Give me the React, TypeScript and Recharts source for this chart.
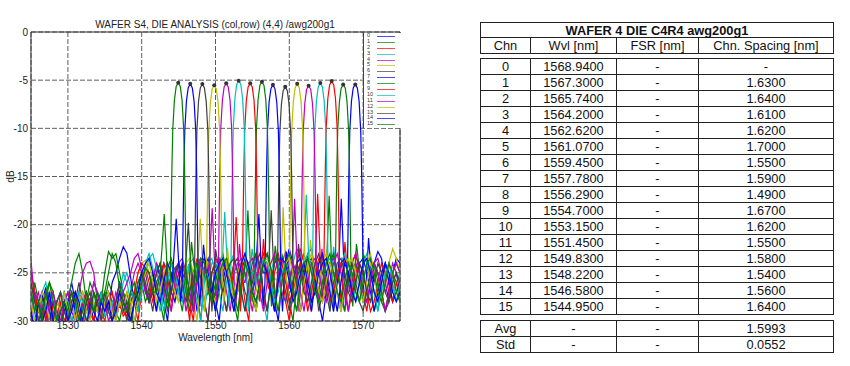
import React from 'react';
import { ComposedChart, Line, Scatter, XAxis, YAxis, CartesianGrid, ReferenceArea, Label } from 'recharts';

// ---------- table data ----------
const CHANNELS = [0, 1, 2, 3, 4, 5, 6, 7, 8, 9, 10, 11, 12, 13, 14, 15];
const WVL = [1568.94, 1567.3, 1565.74, 1564.2, 1562.62, 1561.07, 1559.45, 1557.78, 1556.29, 1554.7, 1553.15, 1551.45, 1549.83, 1548.22, 1546.58, 1544.95];
const SPACING = [null, 1.63, 1.64, 1.61, 1.62, 1.7, 1.55, 1.59, 1.49, 1.67, 1.62, 1.55, 1.58, 1.54, 1.56, 1.64];
const AVG_SPACING = 1.5993;
const STD_SPACING = 0.0552;

// ---------- chart data ----------
const PEAK_DB = [-5.44, -5.44, -5.09, -5.3, -5.57, -5.37, -5.68, -5.47, -5.16, -5.33, -5.05, -5.33, -5.54, -5.4, -5.37, -5.26];
const X_TICKS = [1530, 1540, 1550, 1560, 1570];
const Y_TICKS = [-30, -25, -20, -15, -10, -5, 0];
const COLORS = ['#0000ff', '#008000', '#ff0000', '#00bfbf', '#bf00bf', '#bfbf00', '#404040'];

const GRID = [
  1525, 1525.5, 1526, 1526.5, 1527, 1527.5, 1528, 1528.5, 1529, 1529.5,
  1530, 1530.5, 1531, 1531.5, 1532, 1532.5, 1533, 1533.5, 1534, 1534.5,
  1535, 1535.5, 1536, 1536.5, 1537, 1537.5, 1538, 1538.5, 1539, 1539.5,
  1540, 1540.5, 1541, 1541.5, 1542, 1542.5, 1543, 1543.5, 1544, 1544.5,
  1545, 1545.5, 1546, 1546.5, 1547, 1547.5, 1548, 1548.5, 1549, 1549.5,
  1550, 1550.5, 1551, 1551.5, 1552, 1552.5, 1553, 1553.5, 1554, 1554.5,
  1555, 1555.5, 1556, 1556.5, 1557, 1557.5, 1558, 1558.5, 1559, 1559.5,
  1560, 1560.5, 1561, 1561.5, 1562, 1562.5, 1563, 1563.5, 1564, 1564.5,
  1565, 1565.5, 1566, 1566.5, 1567, 1567.5, 1568, 1568.5, 1569, 1569.5,
  1570, 1570.5, 1571, 1571.5, 1572, 1572.5, 1573, 1573.5, 1574, 1574.5,
  1575,
];

const NOISE_CH0 = [
  -27, -29, -31, -28, -26.5, -29, -30, -28, -29, -31,
  -28, -26, -28, -30, -29, -27, -28, -30, -31, -28,
  -27, -29, -30, -28, -26, -27, -29, -31, -28, -26,
  -25, -27, -28, -26, -24, -25.5, -28, -30, -26, -24.5,
  -26, -28, -25, -24, -26, -29, -27, -24.5, -23.5, -26,
  -28, -30, -26, -24, -25, -28, -27, -25, -23.5, -24,
  -27, -29, -26, -24, -23, -25, -28, -30, -26, -24,
  -22.5, -24, -27, -29, -26, -23, -22.5, -25, -28, -30,
  -27, -24, -23, -25, -28, -27, -25, -24, -26, -27,
  -25, -26, -28, -24, -22.8, -23.5, -26, -28, -25, -23.5,
  -24,
];
const NOISE_CH1 = [
  -29, -26, -28, -30, -27, -29, -31, -28, -27, -29,
  -28, -26, -24, -23, -25, -28, -30, -27, -28, -29,
  -28, -26, -27, -29, -30, -28, -27, -29, -31, -27,
  -26, -28, -27, -25, -26, -28, -30, -24.5, -23.5, -25,
  -27, -29, -26, -24, -25, -27, -30, -25, -24, -26,
  -29, -27, -25, -23.5, -25, -28, -30, -26, -24, -25,
  -27, -29, -26, -23.5, -24, -27, -29, -26, -23, -25,
  -28, -30, -26, -24, -23, -25, -28, -27, -24, -23.5,
  -26, -25, -24, -25, -26, -27, -26, -25, -24, -25,
  -23, -24, -26, -29, -27, -25, -24, -26, -28, -27,
  -26,
];
const NOISE_CH2 = [
  -25, -27, -30, -28, -29, -31, -28, -30, -27, -29,
  -30, -28, -27, -29, -31, -28, -29, -30, -27, -28,
  -29, -27, -28, -30, -28, -29.5, -29, -27, -28, -30,
  -27, -24.5, -25, -27, -29, -26, -25, -27, -29, -26,
  -24, -25, -27, -30, -25, -23.5, -25, -28, -27, -25,
  -23.5, -24, -27, -29, -26, -24, -23.5, -25, -28, -30,
  -25, -23, -24, -27, -29, -26, -24, -23, -25, -28,
  -30, -27, -24, -22.5, -24, -27, -29, -26, -26, -25,
  -25, -25, -25, -25, -25, -25, -25, -24, -23, -25,
  -27, -29, -26, -24, -25, -27, -29, -27, -25, -26,
  -28,
];
const NOISE_CH3 = [
  -28, -30, -29, -27, -26, -28, -30, -31, -28, -27,
  -29, -31, -28, -27, -29, -30, -28, -26, -27, -29,
  -29.5, -29, -28, -30, -27, -25, -26, -28, -30, -28,
  -26, -24, -23, -24.5, -27, -29, -27, -25, -24, -26,
  -28, -27, -25, -24, -26, -28, -30, -26, -24, -23.5,
  -25, -27, -29, -26, -24, -23, -25, -27, -29, -27,
  -25, -24, -26, -28, -30, -25, -23.5, -24, -27, -28,
  -26, -24, -22.5, -23, -25, -25, -25, -25, -25, -25,
  -25, -25, -25, -25, -24, -23, -24, -26, -28, -26,
  -24, -23, -25, -27, -29, -26, -24, -25, -27, -26,
  -25,
];
const NOISE_CH4 = [
  -30, -27, -28, -30, -29, -27, -28, -30, -29, -27,
  -28, -30, -29, -27, -25, -24, -23.8, -25, -28, -30,
  -29, -27, -28, -30, -28, -27, -29, -27, -25, -24,
  -25, -27, -28, -26, -24, -25, -27, -29, -26, -24.5,
  -24, -26, -29, -27, -25, -24, -26, -28, -30, -25,
  -24, -23.5, -25, -27, -29, -25, -24, -23.5, -25, -27,
  -29, -26, -24, -23, -25, -27, -28, -25, -24, -22.8,
  -24, -26, -26, -26, -26, -26, -26, -26, -26, -26,
  -26, -24, -23.5, -25, -27, -29, -26, -24, -23, -24.5,
  -27, -28, -26, -24, -23.5, -25, -27, -26, -24, -25,
  -27,
];
const NOISE_CH5 = [
  -27, -28, -30, -29, -27, -26, -28, -29, -30, -28,
  -29, -27, -28, -30, -29, -28, -27, -29, -30, -28,
  -27, -29, -30, -28, -27, -28, -30, -29, -27, -25,
  -24, -23.7, -25, -27, -28, -26, -24.5, -24, -26, -28,
  -27, -25, -24, -25.5, -28, -30, -25, -23.5, -24, -27,
  -28, -26, -24, -23.5, -26, -28, -27, -25, -24, -26,
  -28, -27, -25, -24, -26, -27, -25.5, -26, -26, -26,
  -26, -26, -26, -26, -26, -26, -26, -26, -26, -24,
  -23, -24.5, -27, -29, -26, -24, -23.5, -25, -27, -28,
  -26, -24, -23, -25, -28, -27, -25, -24, -22.5, -23.5,
  -25,
];
const NOISE_CH6 = [
  -26, -28, -29, -27, -30, -28, -27, -29, -31, -28,
  -27, -29, -28, -26, -28, -30, -29, -27, -28, -30,
  -28, -27, -29, -28, -26, -28, -30, -28, -27, -29,
  -26, -25, -27, -29, -26, -25, -26.5, -28, -27, -25,
  -24, -26, -28, -27, -25, -24, -25.5, -28, -30, -25,
  -24, -25, -27, -29, -26, -24, -23.5, -25, -27, -28,
  -26, -24, -23, -25, -26, -26, -26, -26, -26, -26,
  -26, -26, -26, -26, -25, -23.5, -24, -26, -29, -27,
  -25, -24, -25, -27, -29, -27, -25, -24, -26, -28,
  -29, -27, -25, -24, -25, -27, -29, -28, -26, -25,
  -27,
];
const NOISE_CH7 = [
  -29, -31, -28, -27, -29, -30, -28, -30, -31, -29,
  -28, -27, -29, -31, -28, -27, -29, -30, -28, -27,
  -28, -29, -26, -25, -23.5, -22.3, -23, -25.5, -28, -27,
  -26, -24.5, -25, -27, -29, -26, -24, -25, -27, -28,
  -26, -24, -25, -27, -29, -26, -24, -23.5, -25, -27,
  -29, -26, -24, -25, -27, -28, -26, -24, -23, -24.5,
  -27, -26, -26, -26, -26, -26, -26, -26, -26, -26,
  -26, -26, -24, -23.5, -25, -27, -29, -26, -24, -23,
  -25, -27, -29, -26, -24, -23.5, -25, -27, -26, -24,
  -23.5, -25, -27, -29, -27, -25, -24, -26, -28, -27,
  -26,
];
const NOISE_CH8 = [
  -28, -27, -29, -30, -28, -26, -27, -29, -31, -28,
  -30, -28, -27, -29, -30, -28, -26, -27, -29, -28,
  -25, -22.8, -23.5, -23, -25, -27, -28, -30, -28, -26,
  -25, -26, -28, -27, -25, -24, -26, -29, -27, -25,
  -24, -25, -27, -29, -26, -24, -23.5, -25, -27, -28,
  -26, -24, -23, -25, -27, -29, -26, -24, -27, -27,
  -27, -27, -27, -27, -27, -27, -27, -27, -26, -24,
  -23, -24.5, -27, -29, -26, -24, -23.5, -25, -27, -28,
  -26, -24, -23, -25, -27, -29, -26, -24.5, -24, -26,
  -28, -27, -25, -24, -26, -28, -29, -27, -25, -24,
  -25,
];
const NOISE_CH9 = [
  -25, -27, -29, -28, -30, -27, -29, -31, -28, -30,
  -29, -27, -28, -30, -28, -27, -29, -30, -28, -29,
  -30, -28, -27, -29, -28.5, -29, -29.5, -28, -27, -25,
  -24, -24.5, -26, -28, -27, -25, -24, -25.5, -28, -27,
  -25, -24, -26, -28, -30, -25, -23.5, -24, -26, -28,
  -27, -25, -24, -25, -26, -26, -26, -26, -26, -26,
  -26, -26, -26, -26, -26, -27, -25, -23.5, -24, -26,
  -28, -27, -25, -24, -26, -29, -27, -25, -23.5, -24,
  -26, -28, -27, -25, -24, -26, -29, -27, -25, -24,
  -25, -27, -29, -28, -26, -24, -25, -27, -28, -26,
  -27,
];
const NOISE_CH10 = [
  -27, -29, -30, -28, -29, -27, -28, -30, -29, -27,
  -28, -30, -29, -27, -28, -29, -30, -28, -29, -27,
  -29.5, -29, -28, -30, -28, -26, -25, -26.5, -28, -29,
  -27, -25, -23.5, -23, -24.5, -27, -29, -26, -24, -25,
  -27, -28, -26, -24, -23.5, -25, -27, -29, -26, -24,
  -24, -26, -26, -26, -26, -26, -26, -26, -26, -26,
  -26, -26, -25, -23.5, -24, -26, -28, -27, -25, -24,
  -25, -27, -29, -26, -24, -23, -24.5, -27, -28, -26,
  -24, -23.5, -25, -27, -29, -26, -24, -25, -27, -28,
  -26, -24, -25, -27, -29, -27, -25, -24, -26, -28,
  -26,
];
const NOISE_CH11 = [
  -23.7, -28, -27, -29, -31, -28, -27, -29, -30, -28,
  -27, -29, -30, -28, -27, -29, -28, -26, -27, -29,
  -28, -30, -29, -27, -28, -27, -26, -25, -23.5, -23,
  -24.5, -26, -28, -27, -25, -24, -25.5, -27, -29, -26,
  -24, -23.5, -25, -27, -29, -26, -24, -25, -25, -25,
  -25, -25, -25, -25, -25, -25, -25, -25, -26, -24,
  -23.5, -25, -27, -29, -26, -24, -23, -25, -27, -28,
  -26, -24, -25, -27, -29, -26, -24, -23.5, -25, -27,
  -28, -26, -24, -23, -25, -27, -29, -26, -24, -25,
  -27, -28, -26, -24, -25, -27, -29, -27, -25, -24,
  -25,
];
const NOISE_CH12 = [
  -28, -30, -29, -27, -28, -30, -31, -28, -29, -27,
  -29, -28, -30, -28, -27, -29, -30, -28, -29, -30,
  -28, -27, -29, -30, -28, -29, -27, -28, -30, -28,
  -26, -25, -24, -26, -28, -27, -25, -24, -25.5, -27,
  -28, -26, -24, -23.5, -25, -25, -25, -25, -25, -25,
  -25, -25, -25, -25, -25, -27, -25, -24, -23, -25,
  -27, -29, -26, -24, -23.5, -25, -27, -29, -26, -24,
  -23.5, -25, -27, -29, -26, -24, -23, -25, -27, -28,
  -26, -24, -25, -27, -29, -26, -24, -23.5, -25, -27,
  -28, -26, -24, -25, -27, -28, -26, -24, -25, -27,
  -28,
];
const NOISE_CH13 = [
  -26, -28, -30, -29, -27, -28, -30, -28, -27, -29,
  -30, -28, -27, -29, -30, -28, -27, -29, -28, -30,
  -27, -29, -30, -28, -27, -29, -28, -30, -28, -27,
  -25, -26.5, -28, -27, -25, -24, -26, -28, -27, -25,
  -24, -25, -25, -25, -25, -25, -25, -25, -25, -25,
  -25, -25, -27, -25, -24, -23.5, -25, -27, -29, -26,
  -24, -23, -24.5, -27, -29, -26, -24, -23.5, -25, -27,
  -29, -26, -24, -25, -27, -28, -26, -24, -23, -25,
  -27, -29, -26, -24, -23.5, -25, -27, -28, -26, -24,
  -25, -27, -28, -26, -24, -25, -27, -28, -26, -25,
  -26,
];
const NOISE_CH14 = [
  -29, -31, -28, -30, -29, -27, -30, -31, -29, -28,
  -30, -29, -27, -28, -30, -31, -28, -29, -30, -28,
  -29, -28, -30, -29, -27, -28, -29, -30, -28, -27,
  -25, -24, -23.5, -25, -27, -28, -26, -24, -25, -25,
  -25, -25, -25, -25, -25, -25, -25, -25, -25, -27,
  -25, -24, -23.5, -25, -27, -29, -26, -24, -23, -24.5,
  -27, -28, -26, -24, -25, -27, -29, -26, -23.5, -24,
  -26, -28, -27, -25, -24, -26, -28, -27, -25, -24,
  -23.5, -25, -27, -29, -26, -24, -25, -27, -28, -26,
  -24, -23.5, -25, -27, -28, -26, -24, -25, -27, -28,
  -27,
];
const NOISE_CH15 = [
  -27, -29, -28, -30, -27, -26, -28, -30, -29, -28,
  -29, -27, -28, -30, -29, -27, -28, -29, -27, -28,
  -27, -25, -23, -24, -26.5, -28, -29, -27, -26, -28,
  -26, -24.5, -25, -27, -27, -27, -27, -27, -27, -27,
  -27, -27, -27, -27, -27, -25, -23.5, -24, -26, -28,
  -27, -25, -24, -23.5, -25, -27, -29, -26, -24, -25,
  -27, -28, -26, -24, -23, -24.5, -27, -29, -26, -24,
  -25, -27, -29, -26, -24, -23.5, -25, -27, -28, -26,
  -24, -23, -25, -27, -28, -26, -24, -25, -27, -28,
  -26, -24, -23.5, -25, -27, -28, -26, -24, -25, -27,
  -28,
];

// wavelength offsets (nm) of the measured passband points relative to each channel centre
const PROFILE_OFFSETS = [-2.45, -2.2, -1.9, -1.6, -1.32, -1.08, -0.96, -0.86, -0.74, -0.52, -0.28, 0, 0.28, 0.52, 0.74, 0.86, 0.96, 1.08, 1.3, 1.55, 1.8, 2.1, 2.45];
const PROFILE_CH0 = [-26, -23.5, -17.3, -23, -28.5, -25.9, -19.4, -14.4, -10.2, -7.2, -5.8, -5.44, -5.8, -7.2, -10.3, -14.5, -19.5, -26, -28, -25, -21.4, -24.5, -26];
const PROFILE_CH1 = [-25, -23, -17.0, -23.5, -29, -25.8, -19.5, -14.3, -10.2, -7.3, -5.85, -5.44, -5.8, -7.2, -10.3, -14.4, -19.4, -25.9, -28.5, -25, -22, -24, -26.5];
const PROFILE_CH2 = [-26.5, -23.5, -16.8, -22.5, -28, -25.6, -19.1, -14.1, -9.9, -6.9, -5.5, -5.09, -5.5, -6.9, -9.9, -14.1, -19.2, -25.7, -28.5, -25.5, -21.8, -24.5, -27];
const PROFILE_CH3 = [-25.5, -23, -16.9, -23, -28.5, -25.8, -19.3, -14.3, -10.1, -7.1, -5.7, -5.3, -5.7, -7.1, -10.1, -14.3, -19.3, -25.8, -29, -25, -22.3, -24, -26];
const PROFILE_CH4 = [-26, -23.5, -17.3, -23.5, -29, -26.1, -19.6, -14.6, -10.4, -7.4, -5.95, -5.57, -5.95, -7.4, -10.4, -14.6, -19.6, -26, -28, -25.5, -22.5, -25, -27];
const PROFILE_CH5 = [-26.5, -24, -18.2, -23.5, -28, -25.9, -19.4, -14.4, -10.2, -7.2, -5.8, -5.37, -5.8, -7.2, -10.2, -14.4, -19.4, -25.9, -28.5, -24.5, -21.6, -24, -26.5];
const PROFILE_CH6 = [-25, -23.5, -18.5, -24, -29, -26.2, -19.7, -14.7, -10.5, -7.5, -6.1, -5.68, -6.1, -7.5, -10.5, -14.7, -19.7, -26.2, -28, -25, -22, -24.5, -26];
const PROFILE_CH7 = [-26, -23, -18.9, -24, -28.5, -26, -19.5, -14.5, -10.3, -7.3, -5.9, -5.47, -5.9, -7.3, -10.3, -14.5, -19.5, -26, -29, -25.5, -22.8, -24.5, -27];
const PROFILE_CH8 = [-25.5, -23.5, -18.5, -23.5, -28, -25.7, -19.2, -14.2, -10, -7, -5.55, -5.16, -5.55, -7, -10, -14.2, -19.2, -25.7, -28.5, -25, -22.2, -24, -26];
const PROFILE_CH9 = [-26, -24, -19.2, -24, -29, -25.8, -19.3, -14.3, -10.1, -7.1, -5.7, -5.33, -5.7, -7.1, -10.1, -14.3, -19.3, -25.8, -28, -24.5, -21.5, -24.5, -26.5];
const PROFILE_CH10 = [-26.5, -23.5, -18.7, -23.5, -28.5, -25.6, -19.1, -14.1, -9.9, -6.9, -5.45, -5.05, -5.45, -6.9, -9.9, -14.1, -19.1, -25.6, -29, -25, -22.5, -24, -26];
const PROFILE_CH11 = [-25, -23, -18.3, -23.5, -28, -25.8, -19.3, -14.3, -10.1, -7.1, -5.7, -5.33, -5.7, -7.1, -10.1, -14.3, -19.3, -25.8, -28.5, -25.5, -22, -24.5, -26];
const PROFILE_CH12 = [-26, -24, -19.4, -24, -29, -26.1, -19.6, -14.5, -10.3, -7.3, -5.9, -5.54, -5.9, -7.3, -10.3, -14.5, -19.6, -26.1, -28, -25, -22.4, -25, -27];
const PROFILE_CH13 = [-25.5, -23.5, -19.8, -24, -28.5, -25.9, -19.4, -14.4, -10.2, -7.2, -5.8, -5.4, -5.8, -7.2, -10.2, -14.4, -19.4, -25.9, -29, -25.5, -22.6, -24, -26];
const PROFILE_CH14 = [-26, -23, -19.4, -23.5, -28, -25.9, -19.4, -14.4, -10.2, -7.2, -5.8, -5.37, -5.8, -7.2, -10.2, -14.4, -19.4, -25.9, -28.5, -25, -22.1, -24.5, -26.5];
const PROFILE_CH15 = [-25, -22.5, -18.9, -23, -28.5, -25.8, -19.3, -14.3, -10.1, -7.1, -5.65, -5.26, -5.65, -7.1, -10.1, -14.3, -19.3, -25.8, -28, -25, -21.8, -24, -26];

const NOISE = [NOISE_CH0, NOISE_CH1, NOISE_CH2, NOISE_CH3, NOISE_CH4, NOISE_CH5, NOISE_CH6, NOISE_CH7, NOISE_CH8, NOISE_CH9, NOISE_CH10, NOISE_CH11, NOISE_CH12, NOISE_CH13, NOISE_CH14, NOISE_CH15];
const PROFILES = [PROFILE_CH0, PROFILE_CH1, PROFILE_CH2, PROFILE_CH3, PROFILE_CH4, PROFILE_CH5, PROFILE_CH6, PROFILE_CH7, PROFILE_CH8, PROFILE_CH9, PROFILE_CH10, PROFILE_CH11, PROFILE_CH12, PROFILE_CH13, PROFILE_CH14, PROFILE_CH15];

const SERIES = CHANNELS.map((c) => {
  const lc = WVL[c];
  const pts: { x: number; y: number }[] = [];
  GRID.forEach((x, i) => {
    if (Math.abs(x - lc) > 2.46) pts.push({ x, y: NOISE[c][i] });
  });
  PROFILE_OFFSETS.forEach((o, k) => pts.push({ x: Math.round((lc + o) * 1000) / 1000, y: PROFILES[c][k] }));
  pts.sort((a, b) => a.x - b.x);
  return pts;
});
const PEAK_POINTS = CHANNELS.map((c) => ({ x: WVL[c], y: PEAK_DB[c] }));

const NARROW = '"Liberation Sans Narrow", "Liberation Sans", Arial, sans-serif';
const TABLE_FONT = '"Liberation Sans", Arial, sans-serif';
const COL_W = [50, 86, 82, 135];

const renderDb = (props: any) => {
  const vb = props.viewBox || {};
  const x = vb.x + 9;
  const y = vb.y + vb.height / 2;
  return (
    <text x={x} y={y} transform={`rotate(-90 ${x} ${y})`} textAnchor="middle" dominantBaseline="central" fontSize={10} fontFamily={NARROW} fill="#222">
      dB
    </text>
  );
};

const Cell = ({ w, h, bold, children }: any) => (
  <div
    style={{
      width: w,
      height: h,
      boxSizing: 'border-box',
      borderRight: '1px solid #222',
      borderBottom: '1px solid #222',
      display: 'flex',
      alignItems: 'center',
      justifyContent: 'center',
      fontWeight: bold ? 'bold' : 'normal',
      whiteSpace: 'nowrap',
    }}
  >
    {children}
  </div>
);

const Row = ({ cells, h }: any) => (
  <div style={{ display: 'flex' }}>
    {cells.map((t: any, i: number) => (
      <Cell key={i} w={COL_W[i]} h={h}>
        {t}
      </Cell>
    ))}
  </div>
);

const blockStyle = (top: number): React.CSSProperties => ({
  position: 'absolute',
  left: 480,
  top,
  borderTop: '1px solid #222',
  borderLeft: '1px solid #222',
  fontFamily: TABLE_FONT,
  fontSize: 12.8,
  color: '#111',
});

export default function App() {
  return (
    <div style={{ position: 'absolute', left: 0, top: 0, width: 850, height: 366, background: '#fff', overflow: 'hidden' }}>
      <div style={{ position: 'absolute', left: 0, top: 19, width: 430, textAlign: 'center', fontFamily: NARROW, fontSize: 10, lineHeight: '12px', color: '#222' }}>
        WAFER S4, DIE ANALYSIS (col,row) (4,4) /awg200g1
      </div>
      <div style={{ position: 'absolute', left: 0, top: 0 }}>
        <ComposedChart width={420} height={350} margin={{ top: 32, right: 20, left: 1, bottom: 9 }}>
          <CartesianGrid stroke="#333" strokeDasharray="5 2" strokeWidth={0.8} />
          <XAxis
            type="number"
            dataKey="x"
            domain={[1525, 1575]}
            ticks={X_TICKS}
            allowDataOverflow
            axisLine={false}
            tickLine={false}
            tickSize={0}
            tickMargin={1}
            height={20}
            tick={{ fontSize: 10, fontFamily: NARROW, fill: '#222' }}
          >
            <Label value="Wavelength [nm]" position="insideBottom" offset={0.5} style={{ fontSize: 10, fontFamily: NARROW, fill: '#222' }} />
          </XAxis>
          <YAxis
            type="number"
            domain={[-30, 0]}
            ticks={Y_TICKS}
            allowDataOverflow
            axisLine={false}
            tickLine={false}
            tickSize={0}
            tickMargin={3}
            width={30}
            tick={{ fontSize: 10, fontFamily: NARROW, fill: '#222' }}
          >
            <Label content={renderDb} />
          </YAxis>
          {CHANNELS.map((c) => (
            <Line
              key={c}
              data={SERIES[c]}
              dataKey="y"
              type="linear"
              stroke={COLORS[c % COLORS.length]}
              strokeWidth={1.2}
              dot={false}
              activeDot={false}
              isAnimationActive={false}
            />
          ))}
          <Scatter
            data={PEAK_POINTS}
            dataKey="y"
            fill="#333"
            isAnimationActive={false}
            shape={(p: any) => <circle cx={p.cx} cy={p.cy} r={2} fill="#333" />}
          />
          <ReferenceArea x1={1525} x2={1575} y1={-30} y2={0} fill="none" fillOpacity={0} stroke="#333" strokeWidth={1} ifOverflow="visible" />
        </ComposedChart>
      </div>
      <div style={{ position: 'absolute', left: 363, top: 33, width: 37, height: 95, background: '#fff', borderLeft: '1px solid #444', fontFamily: NARROW, color: '#333' }}>
        {CHANNELS.map((c) => (
          <div key={c} style={{ position: 'relative', height: 5.9 }}>
            <span style={{ position: 'absolute', left: 3, top: 0, fontSize: 5.5, lineHeight: '5.9px' }}>{c}</span>
            <span style={{ position: 'absolute', left: 13, top: 3, width: 18, height: 1, background: COLORS[c % COLORS.length], opacity: 0.7 }} />
          </div>
        ))}
      </div>

      {/* table */}
      <div style={blockStyle(22)}>
        <div style={{ display: 'flex' }}>
          <Cell w={353} h={15} bold>
            WAFER 4 DIE C4R4 awg200g1
          </Cell>
        </div>
        <Row h={16} cells={['Chn', 'Wvl [nm]', 'FSR [nm]', 'Chn. Spacing [nm]']} />
      </div>
      <div style={blockStyle(58)}>
        {CHANNELS.map((c) => (
          <Row key={c} h={16} cells={[String(c), WVL[c].toFixed(4), '-', SPACING[c] == null ? '-' : (SPACING[c] as number).toFixed(4)]} />
        ))}
      </div>
      <div style={blockStyle(320)}>
        <Row h={16} cells={['Avg', '-', '-', AVG_SPACING.toFixed(4)]} />
        <Row h={16} cells={['Std', '-', '-', STD_SPACING.toFixed(4)]} />
      </div>
    </div>
  );
}
